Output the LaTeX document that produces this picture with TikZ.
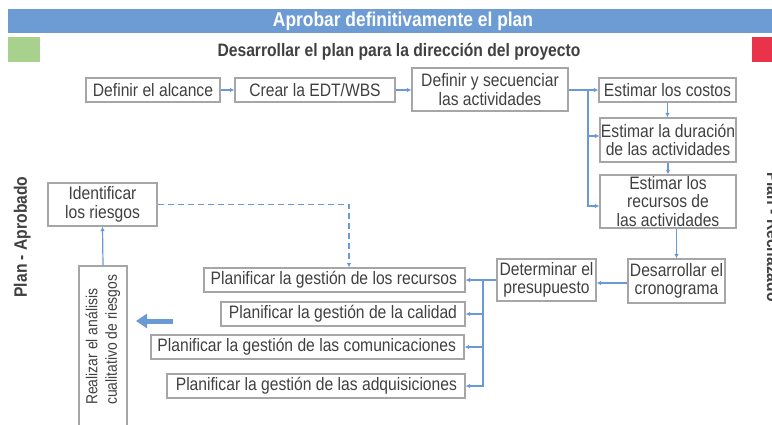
\documentclass[tikz,border=0pt]{standalone}
\usepackage{fontspec}
\setmainfont{Liberation Sans}[FakeStretch=0.87]
\usetikzlibrary{arrows.meta}
\definecolor{barblue}{HTML}{6D9BD3}
\definecolor{arrblue}{HTML}{6A9AD6}
\definecolor{boxgray}{HTML}{A6A6A6}
\definecolor{txtgray}{HTML}{404040}
\definecolor{okgreen}{HTML}{A9D18E}
\definecolor{nored}{HTML}{E8334A}
\begin{document}
\begin{tikzpicture}[x=1pt,y=-1pt,
  font=\fontsize{18}{18.5}\selectfont, text=txtgray,
  box/.style={draw=boxgray, line width=1.1pt, inner sep=0pt, align=center},
  pbox/.style={draw=boxgray, line width=1.1pt, inner xsep=8pt, inner ysep=0pt,
    minimum height=24pt},
  arr/.style={draw=arrblue, line width=1.2pt, -{Latex[length=4.5pt,width=4.5pt]}},
  bigarr/.style={draw=arrblue, line width=5pt, -{Triangle[length=11pt,width=14pt]}},
  boldtxt/.style={font=\fontsize{18}{20}\selectfont\bfseries, text=txtgray, inner sep=0pt}]
\useasboundingbox (0,0) rectangle (772,424);

% header
\fill[barblue] (8,9) rectangle (772,33);
\node[font=\fontsize{20}{22}\selectfont\bfseries, text=white, inner sep=0pt] (title) at (403,21.5) {Aprobar definitivamente el plan};
\fill[okgreen] (8,37) rectangle (40,62);
\fill[nored] (752,37) rectangle (772,62);
\node[boldtxt] (subtitle) at (399,52) {Desarrollar el plan para la dirección del proyecto};
\node[boldtxt, rotate=90, anchor=base] (aprob) at (27,237) {Plan - Aprobado};
\node[boldtxt, rotate=-90, anchor=base] (rech) at (767,237) {Plan - Rechazado};

% top row
\node[box, minimum width=134pt, minimum height=24pt] (alcance) at (153,90) {Definir el alcance};
\node[box, minimum width=160pt, minimum height=24pt] (edt) at (315,90) {Crear la EDT/WBS};
\node[box, minimum width=156pt, minimum height=43pt] (secuenciar) at (490,89.5) {Definir y secuenciar\\las actividades};
\node[box, minimum width=137pt, minimum height=24pt] (costos) at (667.5,90) {Estimar los costos};
\node[box, minimum width=136pt, minimum height=44pt] (duracion) at (668,140) {Estimar la duración\\de las actividades};
\node[box, minimum width=136pt, minimum height=53pt] (recursos) at (668,201.5) {Estimar los\\recursos de\\las actividades};
\node[box, minimum width=97pt, minimum height=44pt] (cronograma) at (676.5,281) {Desarrollar el\\cronograma};
\node[box, minimum width=99pt, minimum height=42pt] (presupuesto) at (546.5,280) {Determinar el\\presupuesto};

% planning boxes
\node[pbox] (precursos) at (334.5,280) {\makebox[245pt][r]{Planificar la gestión de los recursos}};
\node[pbox] (pcalidad) at (343,314) {\makebox[228pt][r]{Planificar la gestión de la calidad}};
\node[pbox] (pcomunic) at (307.5,347) {\makebox[297pt][r]{Planificar la gestión de las comunicaciones}};
\node[pbox] (padquis) at (316,386) {\makebox[282pt][r]{Planificar la gestión de las adquisiciones}};

% risks
\node[box, minimum width=109pt, minimum height=43pt] (identificar) at (102.5,204.5) {Identificar\\los riesgos};
\node[box, minimum width=48pt, minimum height=174pt] (realizar) at (103,353) {};
\node[rotate=90, anchor=west, align=left, inner sep=0pt,
  font=\fontsize{16}{19.5}\selectfont] (realizartxt) at (103,405) {Realizar el análisis\\cualitativo de riesgos};

% connectors
\draw[arr] (alcance.east) -- (edt.west);
\draw[arr] (edt.east) -- (edt.east -| secuenciar.west);
\draw[arr] (costos.west -| secuenciar.east) -- (costos.west);
\coordinate (br1) at (588,90);
\draw[arr] (br1) |- ([yshift=4pt]duracion.west);
\draw[arr] (br1) |- ([yshift=-4.5pt]recursos.west);
\draw[arr] (costos.south) -- (costos.south |- duracion.north);
\draw[arr] (duracion.south) -- (duracion.south |- recursos.north);
\draw[arr] (recursos.south -| cronograma.north) -- (cronograma.north);
\draw[arr] ([yshift=-2pt]cronograma.west) -- ([yshift=-2pt]cronograma.west -| presupuesto.east);
\coordinate (br2) at (483,280);
\draw[arr] (presupuesto.west) -- (precursos.east);
\draw[arr] (br2) |- (pcalidad.east);
\draw[arr] (br2) |- (pcomunic.east);
\draw[arr] (br2) |- (padquis.east);
\draw[arr, dash pattern=on 6pt off 4pt] (identificar.east) -| ([xshift=14.5pt]precursos.north);
\draw[arr] (realizar.north) -- (identificar.south);
\coordinate (bigfrom) at (173,321);
\coordinate (bigto) at (136,321);
\draw[bigarr] (bigfrom) -- (bigto);
\end{tikzpicture}
\end{document}
